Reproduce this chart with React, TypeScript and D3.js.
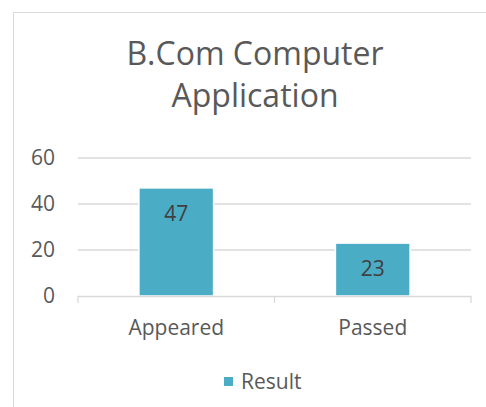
import React, { useEffect, useRef } from 'react';
import * as d3 from 'd3';

const categories = ['Appeared', 'Passed'];
const values = [47, 23];
const yTicks = [0, 20, 40, 60];
const seriesName = 'Result';
const titleLines = ['B.Com Computer', 'Application'];

const W = 486;
const H = 407;
const FONT = '"Open Sans", "Noto Sans", sans-serif';

const App = () => {
    const svgRef = useRef<SVGSVGElement>(null);

    useEffect(() => {
        const svg = d3.select(svgRef.current);
        svg.selectAll('*').remove();

        // chart frame
        svg.append('rect')
            .attr('x', 13.5).attr('y', 12.5)
            .attr('width', 500).attr('height', 420)
            .attr('fill', '#fff').attr('stroke', '#d9d9d9');

        // title
        svg.append('text')
            .attr('x', 255).attr('y', 65)
            .attr('text-anchor', 'middle')
            .style('font-family', FONT).style('font-size', '32px')
            .style('fill', '#595959')
            .selectAll('tspan')
            .data(titleLines)
            .enter()
            .append('tspan')
            .attr('x', 255)
            .attr('dy', (d, i) => (i === 0 ? 0 : 42))
            .text(d => d);

        const left = 78, right = 471, top = 158, bottom = 296;

        const x = d3.scaleBand().domain(categories).range([left, right]).paddingInner(0.62).paddingOuter(0.31);
        const step = (right - left) / categories.length;
        const y = d3.scaleLinear().domain([0, 60]).range([bottom, top]);

        // gridlines
        svg.append('g').selectAll('line')
            .data(yTicks.filter(t => t !== 0))
            .enter().append('line')
            .attr('x1', left).attr('x2', right)
            .attr('y1', d => y(d)).attr('y2', d => y(d))
            .attr('stroke', '#d9d9d9').attr('stroke-width', 1.3);

        // bars
        svg.append('g').selectAll('rect')
            .data(values)
            .enter().append('rect')
            .attr('x', (d, i) => x(categories[i])!)
            .attr('y', d => y(d))
            .attr('width', x.bandwidth())
            .attr('height', d => bottom - y(d))
            .attr('fill', '#4bacc6')
            .attr('stroke', '#fff').attr('stroke-width', 1.5);

        // data labels
        svg.append('g').selectAll('text')
            .data(values)
            .enter().append('text')
            .attr('x', (d, i) => x(categories[i])! + x.bandwidth() / 2)
            .attr('y', d => y(d) + 26)
            .attr('dy', '0.35em')
            .attr('text-anchor', 'middle')
            .style('font-family', FONT).style('font-size', '21px')
            .style('fill', '#404040')
            .text(d => d);

        // x axis
        svg.append('line')
            .attr('x1', left).attr('x2', right)
            .attr('y1', bottom + 0.5).attr('y2', bottom + 0.5)
            .attr('stroke', '#d9d9d9').attr('stroke-width', 1.3);
        svg.append('g').selectAll('line')
            .data(d3.range(categories.length + 1))
            .enter().append('line')
            .attr('x1', d => left + d * step).attr('x2', d => left + d * step)
            .attr('y1', bottom).attr('y2', bottom + 7)
            .attr('stroke', '#d9d9d9').attr('stroke-width', 1.3);

        svg.append('g').selectAll('text')
            .data(categories)
            .enter().append('text')
            .attr('x', d => x(d)! + x.bandwidth() / 2)
            .attr('y', 328)
            .attr('dy', '0.35em')
            .attr('text-anchor', 'middle')
            .style('font-family', FONT).style('font-size', '21px')
            .style('fill', '#595959')
            .text(d => d);

        // y tick labels
        svg.append('g').selectAll('text')
            .data(yTicks)
            .enter().append('text')
            .attr('x', 55)
            .attr('y', d => y(d))
            .attr('dy', '0.35em')
            .attr('text-anchor', 'end')
            .style('font-family', FONT).style('font-size', '21px')
            .style('fill', '#595959')
            .text(d => d);

        // legend
        svg.append('rect')
            .attr('x', 224).attr('y', 377)
            .attr('width', 9).attr('height', 9)
            .attr('fill', '#4bacc6');
        svg.append('text')
            .attr('x', 241).attr('y', 381.5)
            .attr('dy', '0.35em')
            .style('font-family', FONT).style('font-size', '21px')
            .style('fill', '#595959')
            .text(seriesName);
    }, []);

    return (
        <svg ref={svgRef} width={W} height={H} style={{ position: 'absolute', left: 0, top: 0 }}></svg>
    );
};

export default App;
